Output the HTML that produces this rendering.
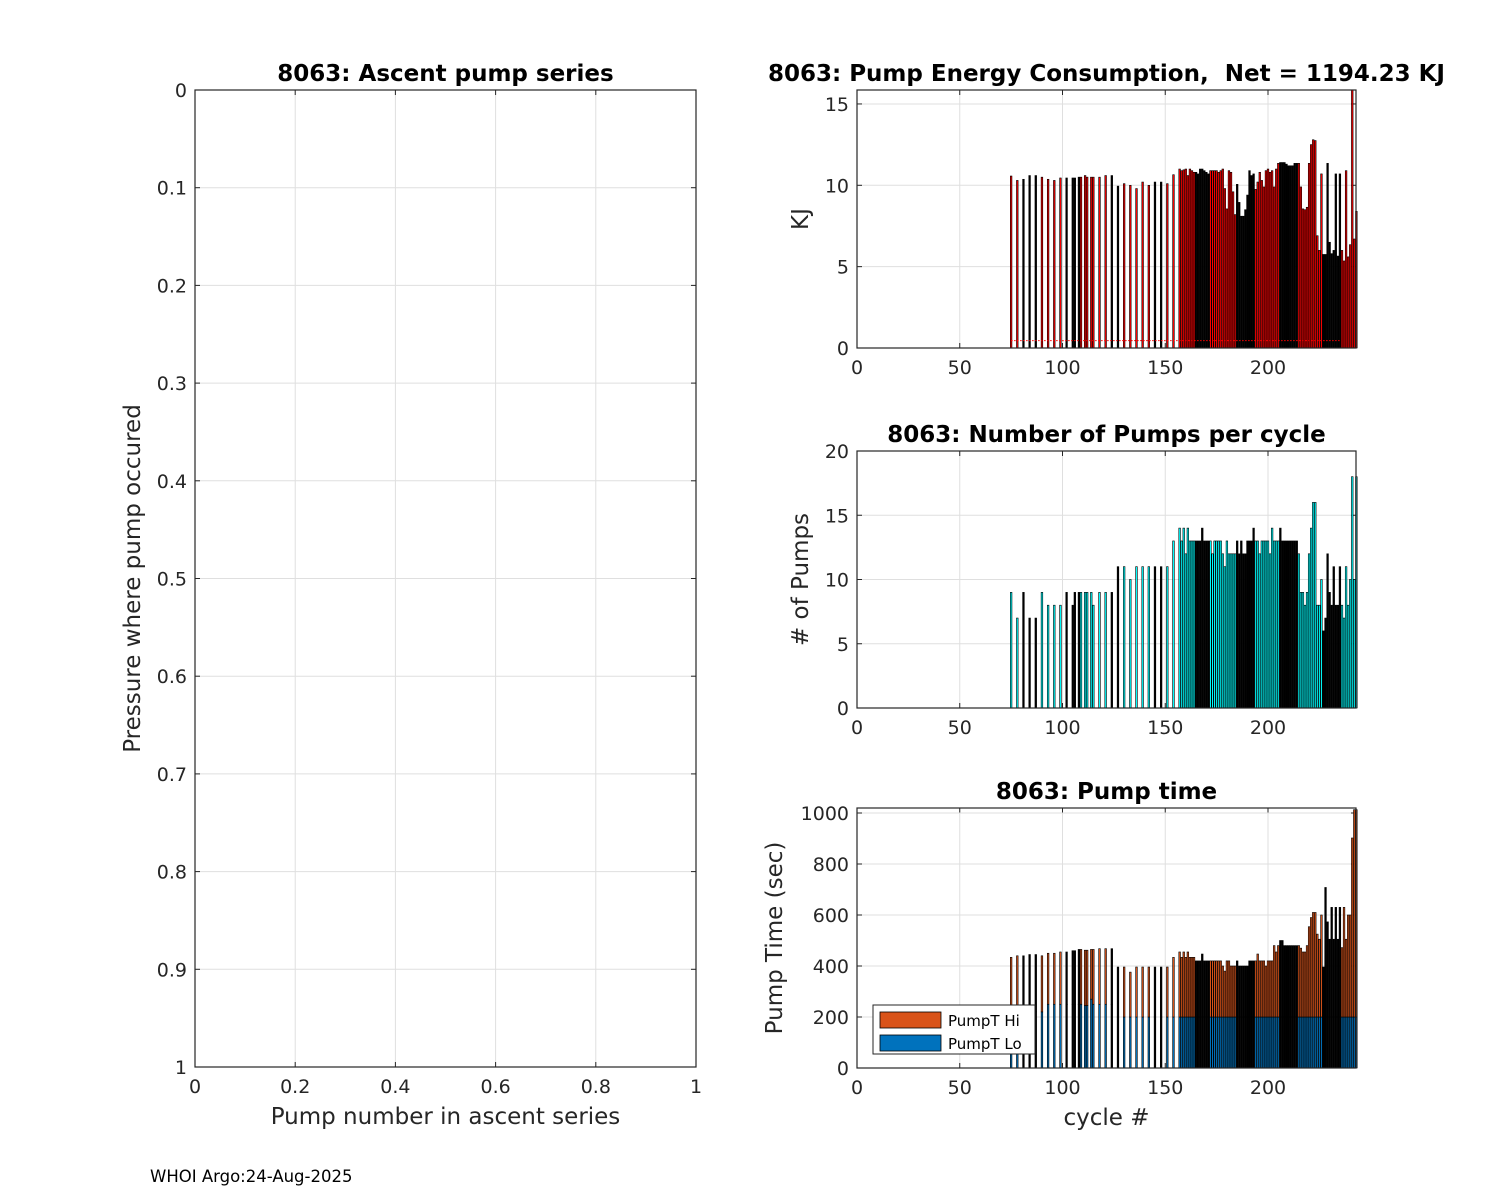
<!DOCTYPE html>
<html><head><meta charset="utf-8"><style>
html,body{margin:0;padding:0;background:#fff;}
svg{display:block;font-family:"DejaVu Sans","Liberation Sans",sans-serif;}
</style></head><body>
<svg id="fig" width="1500" height="1200" viewBox="0 0 1500 1200" xmlns="http://www.w3.org/2000/svg">
<g id="left"></g>
<g id="c1"></g>
<g id="c2"></g>
<g id="c3"></g>
<text x="150" y="1182" font-family="DejaVu Sans, sans-serif" font-size="16.5" fill="#000">WHOI Argo:24-Aug-2025</text>
</svg>
<script>
const NS="http://www.w3.org/2000/svg";
// ---- data ----
const cycles=[75,78,81,84,87,90,93,96,99,102,105,106,108,109,111,112,114,115,118,121,124,127,130,133,136,139,142,145,148,151,154,
157,158,159,160,161,162,163,164,165,166,167,168,169,170,171,172,173,174,175,176,177,178,179,180,181,182,183,184,185,186,187,188,189,190,191,192,193,194,195,196,197,198,199,200,201,202,203,204,205,206,207,208,209,210,211,212,213,214,215,216,217,218,219,220,221,222,223,224,225,226,227,228,229,230,231,232,233,234,235,236,237,238,239,240,241,242,243];
const colored=[1,1,0,0,0,1,1,1,1,0,0,0,0,1,1,1,1,1,1,1,0,0,1,1,1,1,1,0,0,1,1,
1,1,1,1,1,1,1,1,0,0,0,0,0,0,0,1,1,1,1,1,1,1,1,1,1,1,1,1,0,0,0,0,0,0,0,0,0,1,1,1,1,1,1,1,1,1,1,1,1,0,0,0,0,0,0,0,0,0,1,1,1,1,1,1,1,1,1,1,1,1,0,0,0,0,0,0,0,0,0,1,1,1,1,1,1,1,1];
const energyKJ=[10.57,10.3,10.37,10.6,10.6,10.5,10.37,10.3,10.45,10.45,10.45,10.45,10.5,10.5,10.6,10.5,10.5,10.5,10.5,10.6,10.6,9.95,10.1,10.0,9.8,10.2,10.0,10.2,10.2,10.1,10.65,
11.0,10.9,10.95,11.0,10.6,11.0,10.9,10.8,10.8,10.7,11.0,11.0,10.9,10.8,10.7,10.9,10.9,10.9,10.9,10.8,10.9,11.0,9.8,8.55,10.9,10.8,9.6,8.2,10.06,8.95,8.1,8.1,8.5,9.4,10.9,10.6,10.7,9.75,10.2,10.8,10.3,9.9,10.9,11.0,10.8,10.9,9.9,11.0,11.35,11.4,11.4,11.4,11.3,11.2,11.2,11.2,11.35,11.35,11.35,9.9,8.55,8.5,8.65,11.35,12.5,12.8,12.75,6.9,6.0,10.7,5.75,5.75,11.35,6.5,5.8,6.0,10.7,5.65,10.7,6.0,5.35,10.9,5.6,6.35,16.0,6.7,8.4];
const pumpCount=[9,7,9,7,7,9,8,8,8,9,8,9,9,9,9,9,9,8,9,9,9,11,11,10,11,11,11,11,11,11,13,
14,13,14,12,14,13,13,13,13,13,13,14,13,13,13,13,12,13,13,13,13,12,11,13,12,12,12,12,13,12,13,12,12,13,13,13,14,13,13,12,13,13,13,13,12,14,13,13,13,14,13,13,13,13,13,13,13,13,12,9,9,8,9,12,14,16,16,8,8,10,6,7,12,9,8,11,8,8,11,8,7,11,8,10,18,10,18];
const pumpTimeTotal=[434,440,440,445,445,440,450,450,455,455,460,460,465,465,462,462,465,465,468,468,468,396,396,376,396,396,396,396,396,396,434,
455,434,455,434,455,434,434,434,420,420,420,447,420,420,420,420,420,420,420,420,420,400,380,420,420,400,400,400,420,400,400,400,400,400,420,420,420,420,447,420,420,420,400,420,420,420,480,455,480,500,500,480,480,480,480,480,480,480,480,470,455,455,480,554,590,610,610,525,505,600,396,708,573,505,630,505,630,505,630,472,630,505,600,600,902,1013,1013];
const pumpTimeLo=[220,220,220,220,220,220,250,250,250,250,250,250,250,250,245,245,270,250,250,250,250,200,200,200,200,200,200,200,200,200,200,
200,200,200,200,200,200,200,200,200,200,200,200,200,200,200,200,200,200,200,200,200,200,200,200,200,200,200,200,200,200,200,200,200,200,200,200,200,200,200,200,200,200,200,200,200,200,200,200,200,200,200,200,200,200,200,200,200,200,200,200,200,200,200,200,200,200,200,200,200,200,200,200,200,200,200,200,200,200,200,200,200,200,200,200,200,200,200];
const xTicksR=[0,50,100,150,200];
const leftTicks=[0,0.1,0.2,0.3,0.4,0.5,0.6,0.7,0.8,0.9,1];
const leftXTicks=[0,0.2,0.4,0.6,0.8,1];
const eTicks=[0,5,10,15], pTicks=[0,5,10,15,20], tTicks=[0,200,400,600,800,1000];

function el(parent,tag,attrs,text){const e=document.createElementNS(NS,tag);for(const k in attrs)e.setAttribute(k,attrs[k]);if(text!==undefined)e.textContent=text;parent.appendChild(e);return e;}
const GRID="#dfdfdf", AX="#262626";

function axes(g,box,xs,ys,xt,yt,fmtx,fmty,title,xl,yl,names){
  const [L,T,R,B]=box;
  xt.forEach(v=>{const x=xs(v);
    const gl=el(g,'line',{x1:x,x2:x,y1:T,y2:B,stroke:GRID,'stroke-width':1});
    
    const tk=el(g,'text',{x:x,y:B+26,'font-size':19,'text-anchor':'middle',fill:AX},fmtx(v));
    
    el(g,'line',{x1:x,x2:x,y1:B,y2:B-5,stroke:AX});el(g,'line',{x1:x,x2:x,y1:T,y2:T+5,stroke:AX});
  });
  yt.forEach(v=>{const y=ys(v);
    const gl=el(g,'line',{x1:L,x2:R,y1:y,y2:y,stroke:GRID,'stroke-width':1});
    
    const tk=el(g,'text',{x:L-8,y:y+7,'font-size':19,'text-anchor':'end',fill:AX},fmty(v));
    
    el(g,'line',{x1:L,x2:L+5,y1:y,y2:y,stroke:AX});el(g,'line',{x1:R,x2:R-5,y1:y,y2:y,stroke:AX});
  });
  const t=el(g,'text',{x:(L+R)/2,y:T-9,'font-size':23,'font-weight':'bold','text-anchor':'middle',fill:'#000'},title);
  t.setAttribute('xml:space','preserve');t.style.whiteSpace='pre';
  
  if(xl){const a=el(g,'text',{x:(L+R)/2,y:B+57,'font-size':23,'text-anchor':'middle',fill:AX},xl);
    }
  if(yl){const a=el(g,'text',{x:0,y:0,'font-size':23,'text-anchor':'middle',fill:AX,transform:`translate(${yl[1]},${(T+B)/2}) rotate(-90)`},yl[0]);
    }
}
function frame(g,box){const [L,T,R,B]=box;
  const f=el(g,'rect',{x:L,y:T,width:R-L,height:B-T,fill:'none',stroke:AX,'stroke-width':1.2});
  }

// ---- left axes ----
{const g=document.getElementById('left');const box=[195,90,696,1067];
 const xs=v=>195+v*(696-195), ys=v=>90+v*(1067-90);
 axes(g,box,xs,ys,leftXTicks,leftTicks,v=>String(v),v=>String(v),'8063: Ascent pump series','Pump number in ascent series',['Pressure where pump occured',140],'ascent');
 frame(g,box);}

const XL=857,XR=1356;
const xsR=v=>XL+v*2.055;
const bw=0.8*2.055;
const SW=0.6;

// ---- energy ----
{const g=document.getElementById('c1');const box=[XL,90,XR,348];
 const ys=v=>348-v*16.27;
 axes(g,box,xsR,ys,xTicksR,eTicks,String,String,'8063: Pump Energy Consumption,  Net = 1194.23 KJ',null,['KJ',808],'energy');
 cycles.forEach((c,i)=>{const y=Math.max(ys(energyKJ[i]),90);
   const r=el(g,'rect',{x:xsR(c)-bw/2,y:y,width:bw,height:348-y,fill:colored[i]?'#ff0000':'#000',stroke:'#000','stroke-width':SW});
   });
 const d=el(g,'line',{x1:xsR(75),x2:xsR(235),y1:ys(0.45),y2:ys(0.45),stroke:'#ff0000','stroke-width':1,'stroke-dasharray':'1.5 1.5'});
 
 frame(g,box);}

// ---- pumps ----
{const g=document.getElementById('c2');const box=[XL,451,XR,708];
 const ys=v=>708-v*12.85;
 axes(g,box,xsR,ys,xTicksR,pTicks,String,String,'8063: Number of Pumps per cycle',null,['# of Pumps',808],'pumps');
 cycles.forEach((c,i)=>{const y=ys(pumpCount[i]);
   const r=el(g,'rect',{x:xsR(c)-bw/2,y:y,width:bw,height:708-y,fill:colored[i]?'#00ffff':'#000',stroke:'#000','stroke-width':SW});
   });
 frame(g,box);}

// ---- pump time ----
{const g=document.getElementById('c3');const box=[XL,808,XR,1068];
 const ys=v=>1068-v*0.255;
 axes(g,box,xsR,ys,xTicksR,tTicks,String,String,'8063: Pump time','cycle #',['Pump Time (sec)',782],'pumptime');
 cycles.forEach((c,i)=>{const yt=Math.max(ys(pumpTimeTotal[i]),808), yl=ys(pumpTimeLo[i]);
   const lo=el(g,'rect',{x:xsR(c)-bw/2,y:yl,width:bw,height:1068-yl,fill:colored[i]?'#0072BD':'#000',stroke:'#000','stroke-width':SW});
   
   const hi=el(g,'rect',{x:xsR(c)-bw/2,y:yt,width:bw,height:yl-yt,fill:colored[i]?'#D95319':'#000',stroke:'#000','stroke-width':SW});
   });
 frame(g,box);
 const lg=el(g,'g',{});
 el(lg,'rect',{x:873,y:1005,width:162,height:49,fill:'#fff',stroke:AX,'stroke-width':1});
 const s1=el(lg,'rect',{x:880,y:1012,width:61,height:16,fill:'#D95319',stroke:'#000','stroke-width':0.8});
 
 const t1=el(lg,'text',{x:948,y:1026,'font-size':15,fill:'#000'},'PumpT Hi');
 
 const s2=el(lg,'rect',{x:880,y:1035,width:61,height:16,fill:'#0072BD',stroke:'#000','stroke-width':0.8});
 
 const t2=el(lg,'text',{x:948,y:1049,'font-size':15,fill:'#000'},'PumpT Lo');
 }
</script>
</body></html>
